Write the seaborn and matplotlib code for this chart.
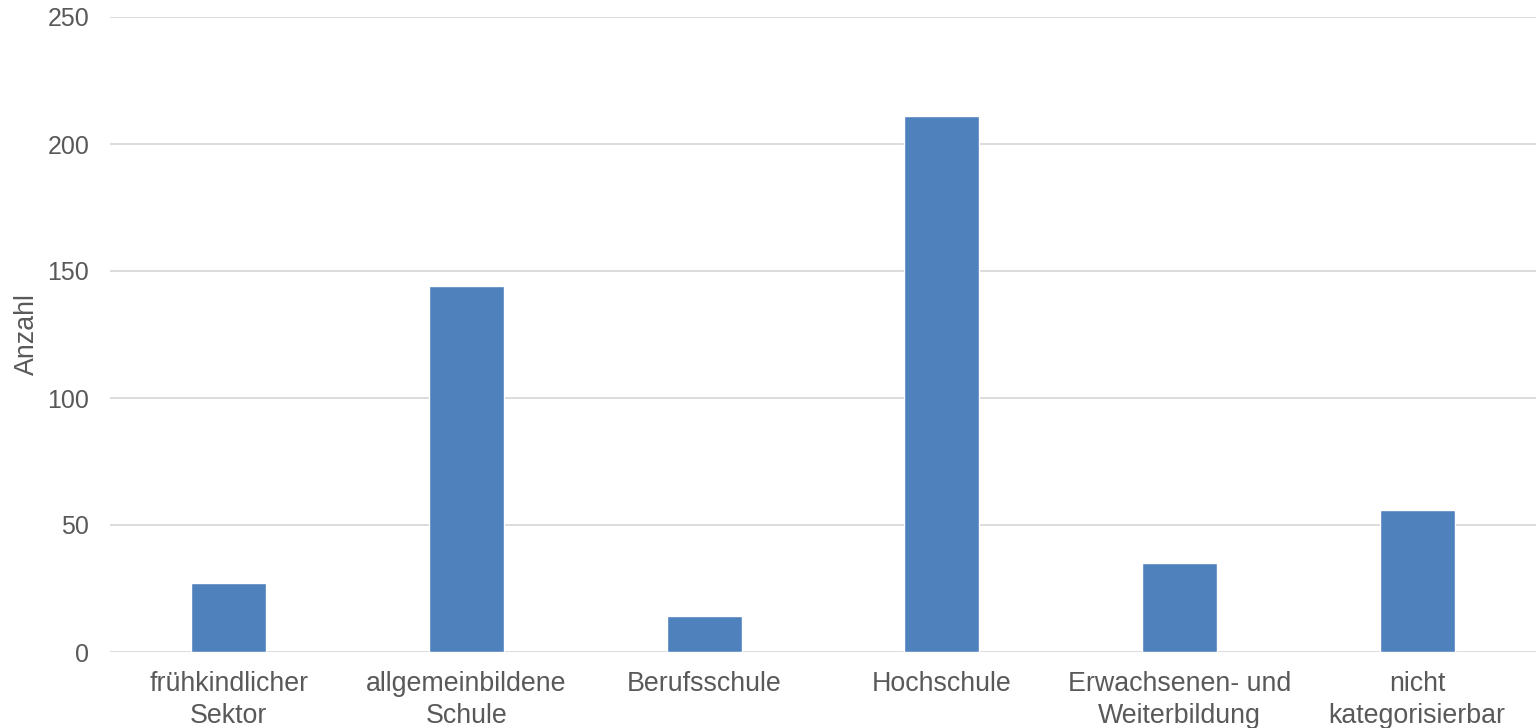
import matplotlib
matplotlib.use("Agg")
import matplotlib.pyplot as plt
import seaborn as sns
import pandas as pd

categories = [
    "frühkindlicher\nSektor",
    "allgemeinbildene\nSchule",
    "Berufsschule",
    "Hochschule",
    "Erwachsenen- und\nWeiterbildung",
    "nicht\nkategorisierbar",
]
counts = [27, 144, 14, 211, 35, 56]
y_ticks = [0, 50, 100, 150, 200, 250]
y_label = "Anzahl"

bar_color = "#4F81BD"
text_color = "#595959"
grid_color = "#D9D9D9"

sns.set_theme(style="white")
plt.rcParams["font.family"] = ["Liberation Sans", "DejaVu Sans"]

df = pd.DataFrame({"Bereich": categories, "Anzahl": counts})

fig = plt.figure(figsize=(15.36, 7.28), dpi=100)
ax = fig.add_axes([110 / 1536, 1 - 652 / 728, 1 - 110 / 1536, (652 - 17) / 728])

sns.barplot(data=df, x="Bereich", y="Anzahl", color=bar_color, width=0.315,
            saturation=1, ax=ax, zorder=3)

ax.set_ylim(0, 250)
ax.set_xlim(-0.5, len(categories) - 0.5)
ax.set_yticks(y_ticks)
for t in y_ticks:
    ax.axhline(t, color=grid_color, lw=1.3, zorder=1)

for s in ax.spines.values():
    s.set_visible(False)

fs = 19.3
ax.tick_params(axis="both", length=0, colors=text_color)
ax.tick_params(axis="x", pad=14, labelsize=fs)
ax.tick_params(axis="y", pad=15, labelsize=18)
for lbl in ax.get_xticklabels():
    lbl.set_linespacing(1.3)
ax.set_xlabel("")
ax.set_ylabel(y_label, fontsize=fs, color=text_color, labelpad=5)

fig.savefig("out.png", dpi=100)
